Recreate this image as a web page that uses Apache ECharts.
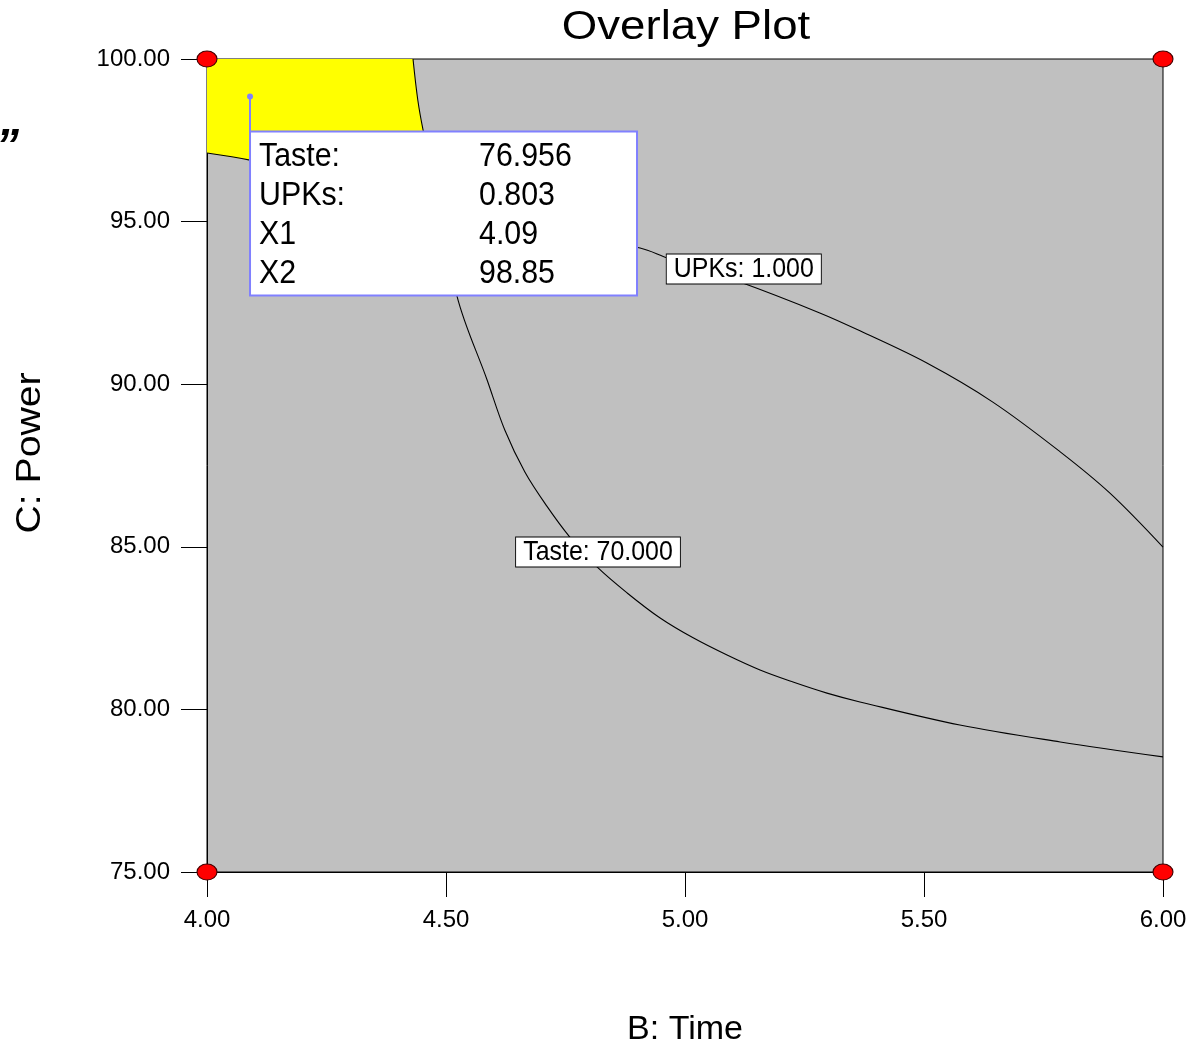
<!DOCTYPE html>
<html>
<head>
<meta charset="utf-8">
<script src="https://cdn.jsdelivr.net/npm/echarts@6/dist/echarts.min.js"></script>
<style>
  html, body { margin: 0; padding: 0; background: #fff; }
  #chart { width: 1197px; height: 1042px; }
</style>
</head>
<body>
<div id="chart"></div>
<script>
var FONT = 'Liberation Sans, Arial, sans-serif'

// axis ticks
var xTicks = [4.0, 4.5, 5.0, 5.5, 6.0]
var yTicks = [75, 80, 85, 90, 95, 100]

// Taste = 70 contour (B: Time, C: Power)
var tasteX = [4.431, 4.441, 4.452, 4.523, 4.586, 4.623, 4.665, 4.711, 4.759, 4.816, 4.879, 4.948, 5.017, 5.088, 5.157, 5.226, 5.297, 5.366, 5.575, 5.785, 6.000]
var tasteY = [100.00, 98.74, 97.82, 92.71, 90.13, 88.59, 87.30, 86.25, 85.30, 84.38, 83.58, 82.81, 82.20, 81.67, 81.21, 80.84, 80.50, 80.23, 79.52, 79.00, 78.54]

// UPKs = 1.000 contour
var upksX = [4.000, 4.090, 4.906, 4.964, 5.115, 5.282, 5.366, 5.506, 5.644, 5.785, 5.889, 6.000]
var upksY = [97.11, 96.89, 94.19, 93.88, 93.14, 92.19, 91.64, 90.65, 89.45, 87.92, 86.65, 84.99]

// sweet spot (yellow) region
var regionX = [4.000, 4.431, 4.441, 4.452, 4.483, 4.090, 4.000]
var regionY = [100.00, 100.00, 98.74, 97.82, 95.59, 96.89, 97.11]

// design points at the corners
var cornerX = [4, 6, 4, 6]
var cornerY = [100, 100, 75, 75]

// contour labels
var contourText = ['UPKs: 1.000', 'Taste: 70.000']
var contourX = [5.123, 4.818]
var contourY = [93.54, 84.84]

// flag
var flagNames = ['Taste:', 'UPKs:', 'X1', 'X2']
var flagValues = ['76.956', '0.803', '4.09', '98.85']
var flagPoint = [4.09, 98.85]

function zip(a, b) {
  return a.map(function (v, i) { return [v, b[i]] })
}

var chart = echarts.init(document.getElementById('chart'))

chart.setOption({
  backgroundColor: '#ffffff',
  animation: false,
  grid: {
    left: 207, right: 34, top: 59, bottom: 170,
    outerBoundsMode: 'none',
    containLabel: false,
    show: true,
    backgroundColor: '#c0c0c0',
    borderColor: '#000',
    borderWidth: 1
  },
  graphic: [
    {
      type: 'text', x: 686, y: 28, scaleX: 1.14, scaleY: 1,
      style: { text: 'Overlay Plot', font: '40px ' + FONT, fill: '#000', textAlign: 'center', textVerticalAlign: 'middle' }
    },
    {
      // y axis title, a little above the middle as in the original
      type: 'text', x: 30, y: 453, rotation: Math.PI / 2, scaleX: 1.12,
      style: { text: 'C: Power', font: '35px ' + FONT, fill: '#000', textAlign: 'center', textVerticalAlign: 'middle' }
    },
    {
      type: 'text', x: -4, y: 125,
      style: { text: '\u201D', font: 'italic bold 46px ' + FONT, fill: '#000', textAlign: 'left', textVerticalAlign: 'top' }
    }
  ],
  xAxis: {
    type: 'value', min: 4, max: 6, interval: 0.5,
    name: 'B: Time', nameLocation: 'middle', nameGap: 141,
    nameTextStyle: { fontSize: 34, fontFamily: FONT, color: '#000' },
    axisLine: { show: true, onZero: false, lineStyle: { color: '#000', width: 1 } },
    axisTick: { show: true, length: 25, lineStyle: { color: '#000' } },
    axisLabel: { fontSize: 24, fontFamily: FONT, color: '#000', margin: 36, formatter: function (v) { return v.toFixed(2) } },
    splitLine: { show: false }
  },
  yAxis: {
    type: 'value', min: 75, max: 100, interval: 5,
    axisLine: { show: true, onZero: false, lineStyle: { color: '#000', width: 1 } },
    axisTick: { show: true, length: 26, lineStyle: { color: '#000' } },
    axisLabel: { fontSize: 24, fontFamily: FONT, color: '#000', margin: 37, formatter: function (v) { return v.toFixed(2) } },
    splitLine: { show: false }
  },
  series: [
    {
      // yellow feasible region
      type: 'custom',
      z: 1,
      data: [0],
      renderItem: function (params, api) {
        var pts = zip(regionX, regionY).map(function (p) { return api.coord(p) })
        return {
          type: 'polygon',
          shape: { points: pts },
          style: { fill: '#ffff00', stroke: null }
        }
      },
      silent: true
    },
    {
      type: 'line',
      z: 2,
      data: zip(tasteX, tasteY),
      showSymbol: false,
      smooth: 0.35,
      lineStyle: { color: '#000', width: 1.1 },
      silent: true
    },
    {
      type: 'line',
      z: 2,
      data: zip(upksX, upksY),
      showSymbol: false,
      smooth: 0.35,
      lineStyle: { color: '#000', width: 1.1 },
      silent: true
    },
    {
      // contour labels
      type: 'custom',
      z: 4,
      data: contourText.map(function (t, i) { return [contourX[i], contourY[i]] }),
      renderItem: function (params, api) {
        var p = api.coord([api.value(0), api.value(1)])
        return {
          type: 'text',
          x: p[0], y: p[1], scaleX: 0.89,
          style: {
            text: contourText[params.dataIndex],
            font: '28px ' + FONT,
            fill: '#000',
            align: 'center',
            verticalAlign: 'middle',
            backgroundColor: '#fff',
            borderColor: '#000',
            borderWidth: 1,
            padding: [1, 8, 0, 8]
          }
        }
      },
      silent: true
    },
    {
      // flag with the point readout
      type: 'custom',
      z: 5,
      data: [flagPoint],
      renderItem: function (params, api) {
        var p = api.coord([api.value(0), api.value(1)])
        var bx = p[0], by = p[1] + 35
        var children = [
          { type: 'line', shape: { x1: p[0], y1: p[1], x2: p[0], y2: by }, style: { stroke: '#8080ff', lineWidth: 2 } },
          { type: 'circle', shape: { cx: p[0], cy: p[1], r: 3 }, style: { fill: '#8080ff' } },
          { type: 'rect', shape: { x: bx, y: by, width: 387, height: 164 }, style: { fill: '#fff', stroke: '#8080ff', lineWidth: 2 } }
        ]
        flagNames.forEach(function (n, i) {
          var ty = by + 26 + i * 39
          children.push({ type: 'text', x: bx + 9, y: ty, scaleX: 0.92, style: { text: n, font: '33px ' + FONT, fill: '#000', verticalAlign: 'middle' } })
          children.push({ type: 'text', x: bx + 229, y: ty, scaleX: 0.92, style: { text: flagValues[i], font: '33px ' + FONT, fill: '#000', verticalAlign: 'middle' } })
        })
        return { type: 'group', children: children }
      },
      silent: true
    },
    {
      type: 'scatter',
      z: 6,
      clip: false,
      symbol: 'circle',
      symbolSize: [20, 16],
      data: zip(cornerX, cornerY),
      itemStyle: { color: '#ff0000', borderColor: '#400000', borderWidth: 1, opacity: 1 },
      silent: true
    }
  ]
})
</script>
</body>
</html>
